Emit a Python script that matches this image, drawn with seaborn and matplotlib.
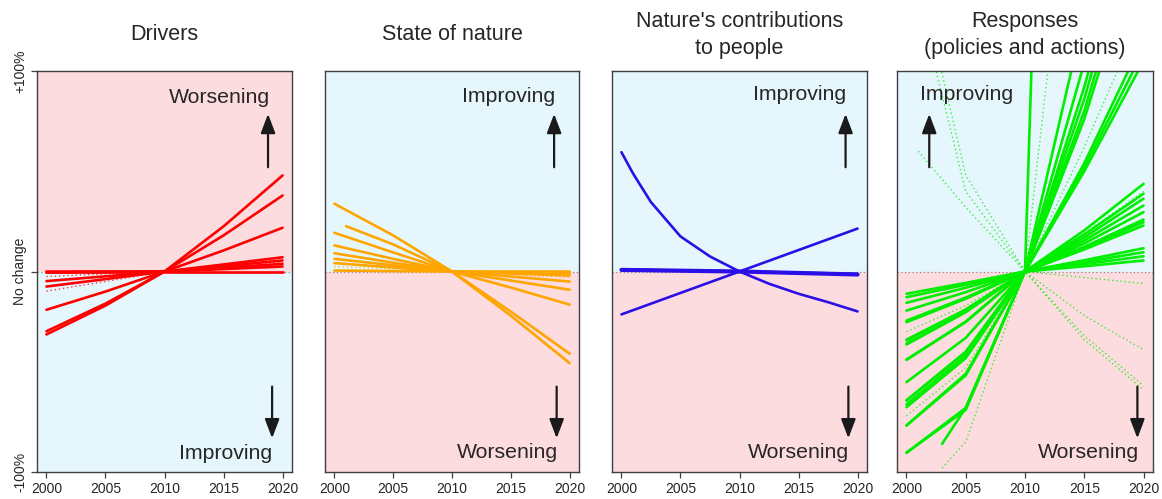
"""
Four-panel trend chart: drivers, state of nature, nature's contributions
and responses, each as % change relative to 2010.
"""

import matplotlib
matplotlib.use("Agg")
import matplotlib.pyplot as plt
import pandas as pd
import seaborn as sns

# ── DATA ──────────────────────────────────────────────────────────────────────

TITLES = ["Drivers", "State of nature",
          "Nature's contributions\nto people",
          "Responses\n(policies and actions)"]
TOP_LABELS    = ["Worsening", "Improving", "Improving", "Improving"]
BOTTOM_LABELS = ["Improving", "Worsening", "Worsening", "Worsening"]
X_TICKS       = [2000, 2005, 2010, 2015, 2020]
Y_TICKS       = [-100, 0, 100]
Y_TICK_LABELS = ["-100%", "No change", "+100%"]

# Drivers (red)
DRIVERS_YEARS = [2000, 2005, 2010, 2015, 2020]
DRIVERS_SOLID = [
    [-31.4, -17.0, 0, 22.5, 47.9],
    [-29.8, -16.0, 0, 18.0, 37.9],
    [-19.1, -10.0, 0, 10.5, 21.8],
    [-7.5, -3.8, 0, 3.5, 7.1],
    [-4.8, -2.4, 0, 2.7, 5.5],
    [0.0, 0.0, 0, 1.9, 3.8],
    [0.0, 0.0, 0, 0.0, 0.0],
    [-0.5, -0.2, 0, 1.2, 2.5],
]
DRIVERS_DOTTED = [
    [-9.8, -5.0, 0, 2.5, 4.6],
    [-2.5, -1.2, 0, 1.2, 2.5],
]

# State of nature (orange)
STATE_YEARS = [2000, 2001, 2005, 2010, 2015, 2020]
STATE_SOLID = [
    [33.8, None, 18.0, 0, -22.0, -45.7],
    [None, 22.6, 13.5, 0, -20.0, -41.0],
    [19.3, None, 9.5, 0, -8.0, -16.5],
    [13.0, None, 6.3, 0, -4.5, -9.1],
    [9.1, None, 4.4, 0, -2.5, -5.0],
    [6.3, None, 3.1, 0, -1.0, -2.0],
    [4.2, None, 2.0, 0, -0.5, -1.0],
    [0.5, None, 0.2, 0, 0.0, 0.0],
]
STATE_DOTTED = [
    [2.5, None, 1.2, 0, -1.5, -3.0],
]

# Nature's contributions to people (blue)
NCP_YEARS = [2000, 2001, 2002.5, 2005, 2007.5, 2010, 2012.5, 2015, 2017.5, 2020]
NCP_SOLID = [
    [59.5, 48.7, 34.6, 17.5, 7.5, 0, -6.1, -11.1, -15.3, -19.9],
    [-21.4, None, None, None, None, 0, None, None, None, 21.4],
    [0.8, None, None, None, None, 0, None, None, None, -1.5],
    [1.0, None, None, None, None, 0, None, None, None, -1.2],
]
NCP_DOTTED = []

# Responses (green)
RESP_YEARS = [2000, 2001, 2003, 2005, 2010, 2015, 2020]
RESP_SOLID = [
    [-11.1, None, None, -5.7, 0, 2.6, 5.5],
    [-12.8, None, None, -6.6, 0, 3.7, 7.6],
    [-15.6, None, None, -8.1, 0, 4.7, 9.6],
    [-19.5, None, None, -10.3, 0, 5.6, 11.6],
    [-25.3, None, None, -13.6, 0, 11.0, 22.9],
    [-24.5, None, None, -13.0, 0, 11.8, 24.6],
    [-34.4, None, None, -19.0, 0, 12.3, 25.9],
    [-36.4, None, None, -20.3, 0, 14.0, 29.6],
    [-44.0, None, None, -25.2, 0, 15.5, 32.9],
    [-36.0, None, None, -20.0, 0, 17.0, 36.3],
    [-44.0, None, None, -25.0, 0, 18.5, 38.8],
    [-34.0, None, None, -19.0, 0, 20.5, 43.7],
    [-55.2, None, None, -33.1, 0, 50.0, 105.0],
    [-64.3, None, None, -40.3, 0, 52.0, 110.0],
    [-66.3, None, None, -41.9, 0, 54.0, 116.0],
    [-67.7, None, None, -43.2, 0, 76.0, 170.0],
    [-76.8, None, None, -51.8, 0, 80.0, 180.0],
    [-90.4, None, None, -69.0, 0, 86.0, 190.0],
    [None, None, -86.0, -68.0, 0, 92.0, 200.0],
    [-76.8, None, None, -51.0, 0, 104.0, 220.0],
    [-64.3, None, None, -40.0, 0, 128.0, 260.0],
    [-90.4, None, None, -68.0, 0, 925.0, 1800.0],
]
RESP_DOTTED = [
    [160.0, None, None, 40.0, 0, -32.0, -57.0],
    [175.0, None, None, 48.0, 0, -34.0, -59.0],
    [None, 60.0, None, 32.0, 0, -22.0, -39.0],
    [None, None, None, None, 0, -3.0, -6.0],
    [None, None, -98.0, -85.0, 0, 260.0, 500.0],
    [-30.0, None, None, -17.0, 0, 19.0, 40.0],
    [-72.0, None, None, -48.0, 0, 62.0, 130.0],
]

# ── STYLE ─────────────────────────────────────────────────────────────────────

PINK = "#fddcdf"
BLUE = "#e5f7fc"
LINE_COLORS = ["#ff0000", "#ffa500", "#2a10e6", "#00ee00"]
SOLID_LW    = 1.9

# axes boxes in pixels (left, right) for a 1162 x 499 canvas
AX_LEFT  = [37, 325, 612, 897]
AX_RIGHT = [292, 579, 867, 1153]
AX_TOP, AX_BOTTOM = 71, 472

# arrow x positions and label anchors in axes fraction
UP_ARROW_X   = [0.906, 0.902, 0.916, 0.126]
DOWN_ARROW_X = [0.922, 0.912, 0.927, 0.939]
TOP_TEXT     = [(0.914, 0.919, "right"), (0.906, 0.923, "right"),
                (0.920, 0.928, "right"), (0.090, 0.928, "left")]
BOTTOM_TEXT  = [(0.924, 0.032, "right"), (0.918, 0.034, "right"),
                (0.931, 0.034, "right"), (0.947, 0.034, "right")]


def to_long(years, rows):
    """Turn a list of value rows into a long frame, skipping empty cells."""
    recs = []
    for i, row in enumerate(rows):
        for yr, v in zip(years, row):
            if v is not None:
                recs.append((i, yr, v))
    return pd.DataFrame(recs, columns=["line", "year", "value"])


PANELS = [
    (DRIVERS_YEARS, DRIVERS_SOLID, DRIVERS_DOTTED),
    (STATE_YEARS, STATE_SOLID, STATE_DOTTED),
    (NCP_YEARS, NCP_SOLID, NCP_DOTTED),
    (RESP_YEARS, RESP_SOLID, RESP_DOTTED),
]

# ── PLOT ──────────────────────────────────────────────────────────────────────

sns.set_style("ticks")
plt.rcParams["font.family"] = ["Liberation Sans", "DejaVu Sans"]

W, H = 1162, 499
fig = plt.figure(figsize=(W / 100, H / 100), dpi=100)

for k, (years, solid, dotted) in enumerate(PANELS):
    l, r = AX_LEFT[k], AX_RIGHT[k]
    ax = fig.add_axes([l / W, (H - AX_BOTTOM) / H, (r - l) / W,
                       (AX_BOTTOM - AX_TOP) / H])

    top_col, bot_col = (PINK, BLUE) if k == 0 else (BLUE, PINK)
    ax.axhspan(0, 100, color=top_col, lw=0, zorder=0)
    ax.axhspan(-100, 0, color=bot_col, lw=0, zorder=0)
    ax.axhline(0, color="#8a8a8a", ls=(0, (1, 2)), lw=0.9, zorder=1)

    col = LINE_COLORS[k]
    if dotted:
        sns.lineplot(data=to_long(years, dotted), x="year", y="value",
                     units="line", estimator=None, color=col, lw=1.0,
                     ls=(0, (1, 2)), alpha=0.75, legend=False, ax=ax, zorder=2)
    sns.lineplot(data=to_long(years, solid), x="year", y="value",
                 units="line", estimator=None, color=col, lw=SOLID_LW,
                 legend=False, ax=ax, zorder=3)
    if k == 2:
        # the near-flat blue trend is drawn heavier in the original
        flat = to_long(years, solid[2:3])
        sns.lineplot(data=flat, x="year", y="value", units="line",
                     estimator=None, color=col, lw=3.0, legend=False, ax=ax,
                     zorder=3)

    ax.set_xlim(1999.2, 2020.8)
    ax.set_ylim(-100, 100)
    ax.set_xlabel("")
    ax.set_ylabel("")
    ax.set_xticks(X_TICKS)
    ax.tick_params(axis="x", labelsize=10, length=4, width=0.9,
                   color="#404040", pad=3)
    if k == 0:
        ax.set_yticks(Y_TICKS)
        ax.set_yticklabels(Y_TICK_LABELS, rotation=90, va="center")
        ax.tick_params(axis="y", labelsize=10, length=4, width=0.9,
                       color="#404040", pad=3)
    else:
        ax.set_yticks([])
    for sp in ax.spines.values():
        sp.set_color("#404040")
        sp.set_linewidth(1.0)
        sp.set_zorder(5)

    ax.text(0.5, 1.09, TITLES[k], transform=ax.transAxes, ha="center",
            va="center", fontsize=15.5, linespacing=1.4)

    tx, ty, tha = TOP_TEXT[k]
    ax.text(tx, ty, TOP_LABELS[k], transform=ax.transAxes, ha=tha,
            va="baseline", fontsize=15.3, zorder=6)
    bx, by, bha = BOTTOM_TEXT[k]
    ax.text(bx, by, BOTTOM_LABELS[k], transform=ax.transAxes, ha=bha,
            va="baseline", fontsize=15.3, zorder=6)

    arrow = dict(arrowstyle="-|>,head_length=0.58,head_width=0.22",
                 mutation_scale=20, color="#1a1a1a", lw=1.6,
                 shrinkA=0, shrinkB=0)
    ax.annotate("", xy=(UP_ARROW_X[k], 0.893), xytext=(UP_ARROW_X[k], 0.760),
                xycoords="axes fraction", arrowprops=arrow, zorder=6)
    ax.annotate("", xy=(DOWN_ARROW_X[k], 0.084),
                xytext=(DOWN_ARROW_X[k], 0.213),
                xycoords="axes fraction", arrowprops=arrow, zorder=6)

fig.savefig("out.png", dpi=100)
